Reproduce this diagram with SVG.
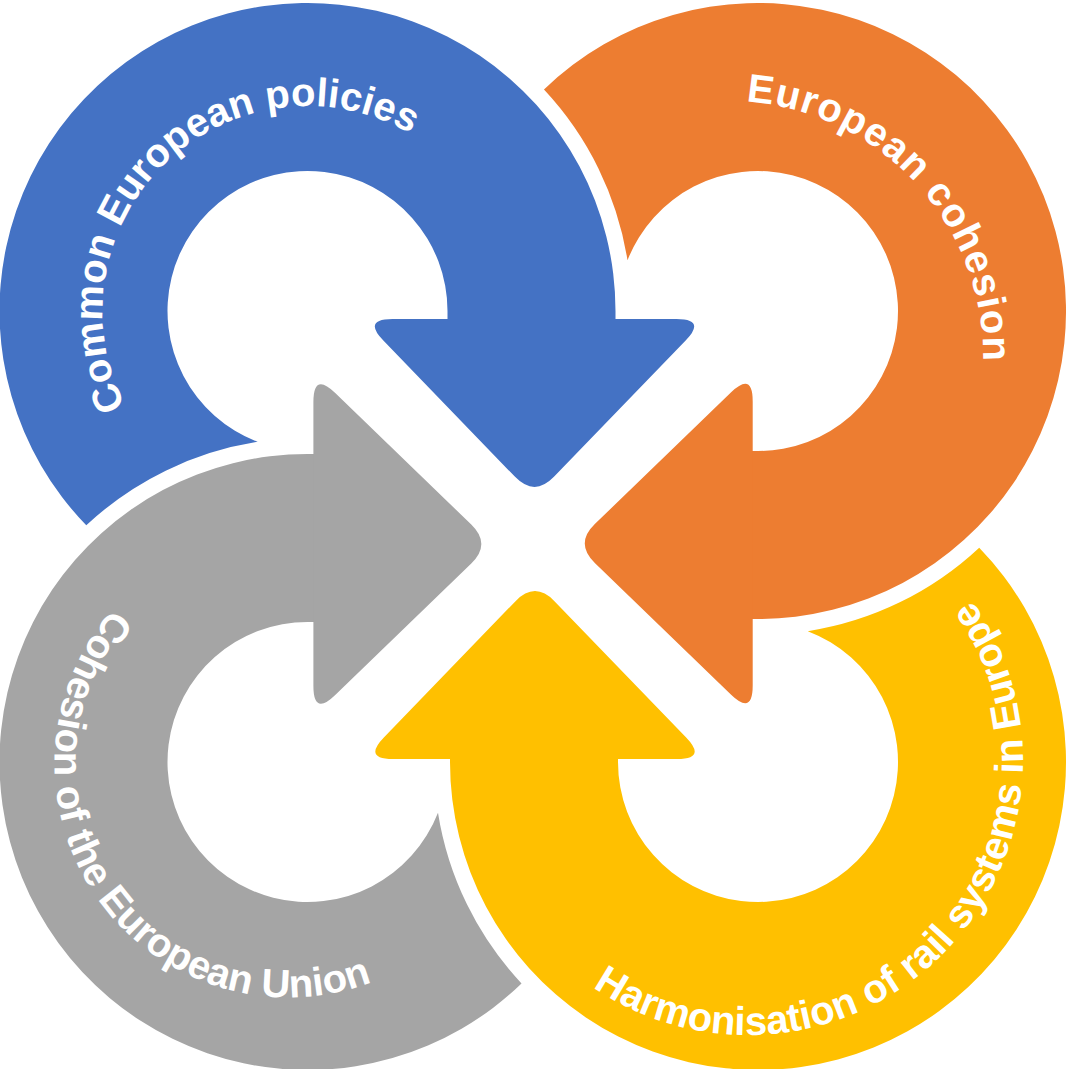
<svg xmlns="http://www.w3.org/2000/svg" width="1066" height="1069" viewBox="0 0 1066 1069">
<defs>
<style>
.blue{fill:#4472C4}
.orange{fill:#ED7D31}
.gray{fill:#A5A5A5}
.yellow{fill:#FFC000}
.lbl{font-family:"Liberation Sans",Arial,sans-serif;font-weight:bold;font-size:40px;fill:#FFFFFF}
</style>
<path id="tp-blue" d="M 356.0,510.2 A 205 205 0 1 1 504.3,368.5"/>
<path id="tp-orange" d="M 478.9,410.3 A 255 255 0 1 1 650.5,598.9"/>
<path id="tp-yellow" d="M 481.6,691.6 A 275 275 0 1 0 674.1,495.1"/>
<path id="tp-gray" d="M 388.3,551.8 A 234 234 0 1 0 521.7,744.1"/>
</defs>
<rect width="1066" height="1069" fill="#FFFFFF"/>
<g id="arrow-blue">
<path class="blue" d="M 86.27,525.29 A 308 308 0 1 1 615.5,311 L 615.5,320 L 447.5,320 L 447.5,311 A 140 140 0 1 0 257.72,441.85 A 324 324 0 0 0 86.27,525.29 Z"/>
<path class="blue" d="M 392.5,319 L 676.5,319 Q 706.5,319 685.65,340.57 L 553.96,476.87 Q 534.5,497 515.04,476.87 L 383.35,340.57 Q 362.5,319 392.5,319 Z"/>
<text class="lbl"><textPath href="#tp-blue" startOffset="50%" text-anchor="middle">Common European policies</textPath></text>
</g>
<g id="arrow-orange">
<path class="orange" d="M 543.97,89.52 A 308 308 0 1 1 758,619 L 752,619 L 752,451 L 758,451 A 140 140 0 1 0 627.51,260.28 A 324 324 0 0 0 543.97,89.52 Z"/>
<path class="orange" d="M 752.7,401.5 L 752.7,685.5 Q 752.7,715.5 731.13,694.65 L 594.83,562.96 Q 574.7,543.5 594.83,524.04 L 731.13,392.35 Q 752.7,371.5 752.7,401.5 Z"/>
<text class="lbl" letter-spacing="1"><textPath href="#tp-orange" startOffset="50%" text-anchor="middle">European cohesion</textPath></text>
</g>
<g id="arrow-yellow">
<path class="yellow" d="M 979.23,547.71 A 308 308 0 1 1 450,762 L 450,758 L 618,758 L 618,762 A 140 140 0 1 0 807.78,631.15 A 324 324 0 0 0 979.23,547.71 Z"/>
<path class="yellow" d="M 393,759 L 677,759 Q 707,759 686.15,737.43 L 554.46,601.13 Q 535,581 515.54,601.13 L 383.85,737.43 Q 363,759 393,759 Z"/>
<text class="lbl"><textPath href="#tp-yellow" startOffset="50%" text-anchor="middle">Harmonisation of rail systems in Europe</textPath></text>
</g>
<g id="arrow-gray">
<path class="gray" d="M 521.53,983.48 A 308 308 0 1 1 307.5,454 L 314,454 L 314,622 L 307.5,622 A 140 140 0 1 0 437.99,812.72 A 324 324 0 0 0 521.53,983.48 Z"/>
<path class="gray" d="M 313.4,402 L 313.4,686 Q 313.4,716 334.97,695.15 L 471.27,563.46 Q 491.4,544 471.27,524.54 L 334.97,392.85 Q 313.4,372 313.4,402 Z"/>
<text class="lbl"><textPath href="#tp-gray" startOffset="50%" text-anchor="middle">Cohesion of the European Union</textPath></text>
</g>
</svg>
